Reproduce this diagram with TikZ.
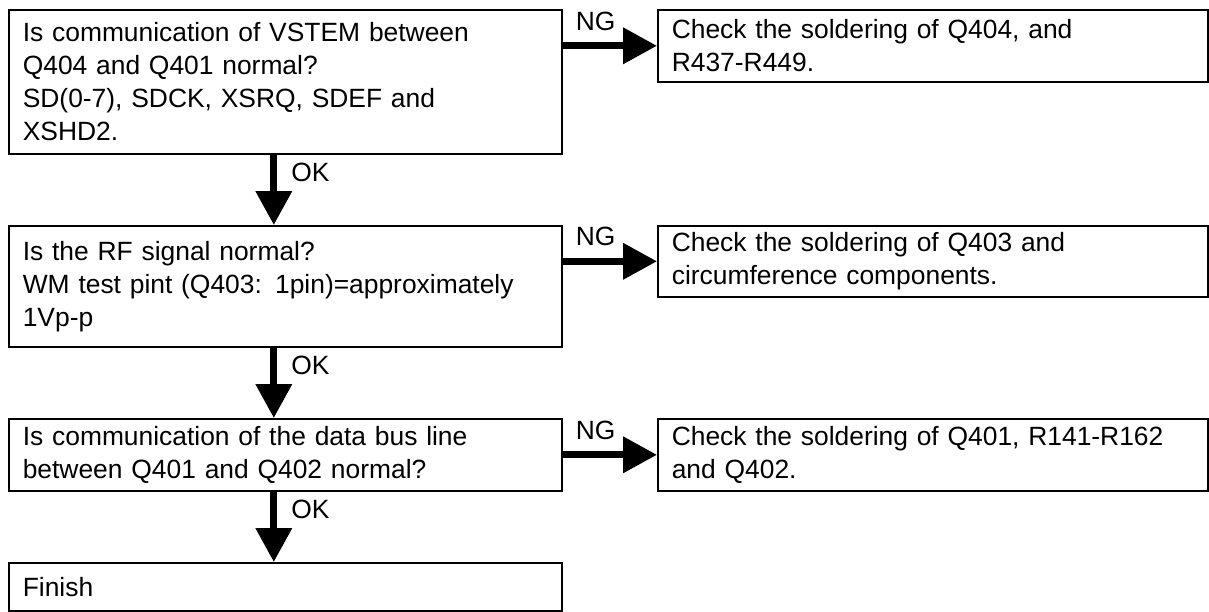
\documentclass[tikz,border=0pt]{standalone}
\usepackage{fontspec}
\setmainfont{Liberation Sans}
\usetikzlibrary{arrows.meta}

\begin{document}
\begin{tikzpicture}[x=0.5pt, y=-0.5pt,
  box/.style={draw, line width=0.8pt, anchor=north west, align=left,
    inner xsep=7pt, inner ysep=0pt, font=\fontsize{13.2}{16.5}\selectfont},
  qbox/.style={box, text width=262.5pt},
  abox/.style={box, text width=261pt},
  flow/.style={line width=3.5pt, -{Triangle[length=17pt,width=17.5pt]}},
  tag/.style={font=\fontsize{13.2}{16}\selectfont, inner sep=1pt}]
  \useasboundingbox (0,0) rectangle (1209,611);
  % Questions (left column)
  \node[qbox, minimum height=72pt] (q1) at (8,9)
    {Is communication of VSTEM between\\Q404 and Q401 normal?\\SD(0-7), SDCK, XSRQ, SDEF and\\XSHD2.};
  \node[qbox, minimum height=60.5pt] (q2) at (8,225)
    {Is the RF signal normal?\\WM test pint (Q403: 1pin)=approximately\\1Vp-p};
  \node[qbox, minimum height=36pt] (q3) at (8,418)
    {Is communication of the data bus line\\between Q401 and Q402 normal?};
  \node[qbox, minimum height=24pt] (fin) at (8,562) {Finish};
  % Actions (right column)
  \node[abox, minimum height=36pt] (a1) at (657,9)
    {Check the soldering of Q404, and\\R437-R449.};
  \node[abox, minimum height=35.5pt] (a2) at (657,225)
    {Check the soldering of Q403 and\\circumference components.};
  \node[abox, minimum height=36pt] (a3) at (657,418)
    {Check the soldering of Q401, R141-R162\\and Q402.};
  % NG branches
  \draw[flow] (q1.east |- a1.west) -- node[tag, pos=0.35, above=5pt] {NG} (a1.west);
  \draw[flow] (q2.east |- a2.west) -- node[tag, pos=0.35, above=5pt] {NG} (a2.west);
  \draw[flow] (q3.east |- a3.west) -- node[tag, pos=0.35, above=5pt] {NG} (a3.west);
  % OK branches
  \draw[flow] ([xshift=-5.75pt]q1.south) -- node[tag, pos=0.25, right=6pt] {OK} ([xshift=-5.75pt]q2.north);
  \draw[flow] ([xshift=-5.75pt]q2.south) -- node[tag, pos=0.25, right=6pt] {OK} ([xshift=-5.75pt]q3.north);
  \draw[flow] ([xshift=-5.75pt]q3.south) -- node[tag, pos=0.25, right=6pt] {OK} ([xshift=-5.75pt]fin.north);
\end{tikzpicture}
\end{document}
